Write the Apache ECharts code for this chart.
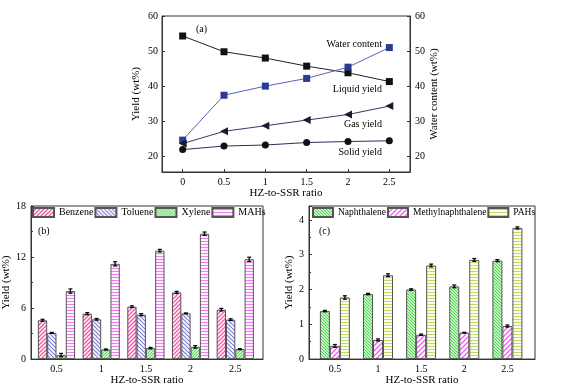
<!DOCTYPE html>
<html>
<head>
<meta charset="utf-8">
<script src="https://cdn.jsdelivr.net/npm/echarts@6/dist/echarts.min.js"></script>
<style>
  html, body { margin: 0; padding: 0; background: #fff; }
  #main { width: 576px; height: 387px; }
</style>
</head>
<body>
<div id="main"></div>
<script>
// panel (a)
const ratioA = [0, 0.5, 1, 1.5, 2, 2.5];
const waterContent = [54.3, 49.8, 48.0, 45.7, 43.8, 41.3];
const liquidYield = [24.6, 37.4, 40.0, 42.2, 45.4, 51.0];
const gasYield = [23.6, 27.1, 28.7, 30.3, 31.9, 34.3];
const solidYield = [21.9, 22.9, 23.2, 23.9, 24.2, 24.4];
const ticksA = [20, 30, 40, 50, 60];

// panel (b)
const ratioB = [0.5, 1, 1.5, 2, 2.5];
const benzene = [4.56, 5.34, 6.16, 7.84, 5.81];
const toluene = [3.08, 4.68, 5.22, 5.38, 4.64];
const xylene = [0.47, 1.13, 1.29, 1.44, 1.17];
const mahs = [8.0, 11.2, 12.75, 14.74, 11.73];
const benzeneErr = [0.12, 0.12, 0.1, 0.12, 0.15];
const tolueneErr = [0.06, 0.1, 0.12, 0.05, 0.1];
const xyleneErr = [0.2, 0.06, 0.08, 0.15, 0.06];
const mahsErr = [0.25, 0.25, 0.15, 0.2, 0.25];

// panel (c)
const naphthalene = [1.38, 1.87, 2.0, 2.09, 2.83];
const methylnaph = [0.38, 0.55, 0.70, 0.76, 0.95];
const pahs = [1.77, 2.41, 2.69, 2.85, 3.77];
const naphErr = [0.02, 0.02, 0.02, 0.04, 0.03];
const methylErr = [0.04, 0.03, 0.02, 0.01, 0.03];
const pahsErr = [0.05, 0.04, 0.04, 0.04, 0.03];

var chart = echarts.init(document.getElementById('main'));
const font = 'Liberation Serif';
const ink = '#000';

// simple hatch fills drawn on a small canvas
function hatch(color, kind, size, lw) {
	var c = document.createElement('canvas');
	c.width = size; c.height = size;
	var g = c.getContext('2d');
	g.fillStyle = '#fff';
	g.fillRect(0, 0, size, size);
	g.strokeStyle = color;
	g.lineWidth = lw;
	g.beginPath();
	if (kind === '/') {
		g.moveTo(0, size); g.lineTo(size, 0);
		g.moveTo(-1, 1); g.lineTo(1, -1);
		g.moveTo(size - 1, size + 1); g.lineTo(size + 1, size - 1);
	} else if (kind === '\\') {
		g.moveTo(0, 0); g.lineTo(size, size);
		g.moveTo(-1, size - 1); g.lineTo(1, size + 1);
		g.moveTo(size - 1, -1); g.lineTo(size + 1, 1);
	} else {
		g.moveTo(0, size / 2); g.lineTo(size, size / 2);
	}
	g.stroke();
	return { image: c, repeat: 'repeat' };
}

function pairs(xs, ys) { return xs.map((x, i) => [x, ys[i]]); }
function triples(xs, ys, es) { return xs.map((x, i) => [x, ys[i], es[i]]); }

// grid 1 -> xAxis 1 / yAxis 2, grid 2 -> xAxis 2 / yAxis 3
function barSeries(name, idx, vals, fill) {
	return {
		name: name, type: 'bar', xAxisIndex: idx, yAxisIndex: idx + 1,
		data: pairs(ratioB, vals),
		barWidth: idx === 1 ? 9.3 : 10, barGap: '0%',
		itemStyle: { color: fill, borderColor: '#555', borderWidth: 1 }
	};
}

function errSeries(idx, vals, errs, k, n, w) {
	return {
		type: 'custom', xAxisIndex: idx, yAxisIndex: idx + 1, z: 5,
		data: triples(ratioB, vals, errs),
		renderItem: function(params, api) {
			var top = api.coord([api.value(0), api.value(1) + api.value(2)]);
			var bot = api.coord([api.value(0), api.value(1) - api.value(2)]);
			var x = top[0] + (k - (n - 1) / 2) * w;
			var st = { stroke: '#000', lineWidth: 1.2 };
			return {
				type: 'group',
				children: [
					{ type: 'line', shape: { x1: x, y1: top[1], x2: x, y2: bot[1] }, style: st },
					{ type: 'line', shape: { x1: x - 2, y1: top[1], x2: x + 2, y2: top[1] }, style: st },
					{ type: 'line', shape: { x1: x - 2, y1: bot[1], x2: x + 2, y2: bot[1] }, style: st }
				]
			};
		}
	};
}

const nameTxt = { fontFamily: font, fontSize: 11, color: ink };
const txt = { fontFamily: font, fontSize: 10, color: ink };
const axLine = { show: true, onZero: false, lineStyle: { color: '#333' } };

function bottomAxis(idx, min, max, ticks) {
	return {
		gridIndex: idx, type: 'value', min: min, max: max,
		name: 'HZ-to-SSR ratio', nameLocation: 'middle', nameGap: 15,
		nameTextStyle: nameTxt,
		axisLine: axLine,
		axisTick: { show: idx === 0, inside: true, length: 3, customValues: ticks, lineStyle: { color: '#333' } },
		axisLabel: Object.assign({ customValues: ticks, margin: 5 }, txt),
		splitLine: { show: false }
	};
}

function leftAxis(idx, min, max, interval, gap) {
	return {
		gridIndex: idx, type: 'value', min: min, max: max, interval: interval,
		name: 'Yield (wt%)', nameLocation: 'middle', nameGap: gap, nameTextStyle: nameTxt,
		axisLine: axLine,
		axisTick: { inside: true, length: 3 },
		minorTick: { show: true, splitNumber: 2, length: 2 },
		axisLabel: Object.assign({ margin: 5, showMaxLabel: max % interval === 0 }, txt),
		splitLine: { show: false }
	};
}

option = {
	backgroundColor: '#fff',
	animation: false,
	grid: [
		{ left: 162, top: 16, width: 248, height: 156, show: true, borderColor: '#333', borderWidth: 1 },
		{ left: 31, top: 206, width: 232, height: 154, show: true, borderColor: '#333', borderWidth: 1 },
		{ left: 309, top: 206, width: 226, height: 154, show: true, borderColor: '#333', borderWidth: 1 }
	],
	legend: [{
		data: ['Benzene', 'Toluene', 'Xylene', 'MAHs'],
		left: 32, top: 207, padding: 0, icon: 'rect', itemWidth: 21, itemHeight: 9, itemGap: 1,
		textStyle: txt
	}, {
		data: ['Naphthalene', 'Methylnaphthalene', 'PAHs'],
		left: 312, top: 207, padding: 0, icon: 'rect', itemWidth: 20, itemHeight: 9, itemGap: 1,
		textStyle: Object.assign({}, txt, { fontSize: 9.5 })
	}],
	xAxis: [
		bottomAxis(0, -0.25, 2.75, ratioA),
		bottomAxis(1, 0.215, 2.81, ratioB),
		bottomAxis(2, 0.2, 2.82, ratioB)
	],
	yAxis: [{
		gridIndex: 0, type: 'value', min: 15.5, max: 60,
		name: 'Yield (wt%)', nameLocation: 'middle', nameGap: 20, nameTextStyle: nameTxt,
		axisLine: axLine,
		axisTick: { inside: true, length: 3, customValues: ticksA },
		axisLabel: Object.assign({ customValues: ticksA, margin: 4 }, txt),
		splitLine: { show: false }
	}, {
		gridIndex: 0, type: 'value', min: 15.5, max: 60, position: 'right',
		name: 'Water content (wt%)', nameLocation: 'middle', nameGap: 17, nameTextStyle: nameTxt,
		axisLine: axLine,
		axisTick: { inside: true, length: 3, customValues: ticksA },
		axisLabel: Object.assign({ customValues: ticksA, margin: 5 }, txt),
		splitLine: { show: false }
	},
	leftAxis(1, 0, 18, 6, 14),
	leftAxis(2, 0, 4.4, 1, 12)
	],
	series: [{
		name: 'Water content', type: 'line', xAxisIndex: 0, yAxisIndex: 1,
		data: pairs(ratioA, waterContent),
		symbol: 'rect', symbolSize: 7,
		lineStyle: { color: '#222', width: 1 },
		itemStyle: { color: '#111' }
	}, {
		name: 'Liquid yield', type: 'line', xAxisIndex: 0, yAxisIndex: 0,
		data: pairs(ratioA, liquidYield),
		symbol: 'rect', symbolSize: 7,
		lineStyle: { color: '#5563c0', width: 1 },
		itemStyle: { color: '#2a3c92' }
	}, {
		name: 'Gas yield', type: 'line', xAxisIndex: 0, yAxisIndex: 0,
		data: pairs(ratioA, gasYield),
		symbol: 'triangle', symbolRotate: 90, symbolSize: 8,
		lineStyle: { color: '#353a66', width: 1 },
		itemStyle: { color: '#1a1a2a' }
	}, {
		name: 'Solid yield', type: 'line', xAxisIndex: 0, yAxisIndex: 0,
		data: pairs(ratioA, solidYield),
		symbol: 'circle', symbolSize: 7,
		lineStyle: { color: '#2a2f5a', width: 1 },
		itemStyle: { color: '#111' }
	},
	barSeries('Benzene', 1, benzene, hatch('#f45aaa', '/', 4, 1.4)),
	barSeries('Toluene', 1, toluene, hatch('#7f80d2', '\\', 4, 1.2)),
	barSeries('Xylene', 1, xylene, hatch('#52d952', '/', 3, 1.2)),
	barSeries('MAHs', 1, mahs, hatch('#f07cf0', '-', 3, 1.2)),
	errSeries(1, benzene, benzeneErr, 0, 4, 9.3),
	errSeries(1, toluene, tolueneErr, 1, 4, 9.3),
	errSeries(1, xylene, xyleneErr, 2, 4, 9.3),
	errSeries(1, mahs, mahsErr, 3, 4, 9.3),
	barSeries('Naphthalene', 2, naphthalene, hatch('#46d846', '\\', 3, 1.2)),
	barSeries('Methylnaphthalene', 2, methylnaph, hatch('#f060f0', '/', 5, 1.3)),
	barSeries('PAHs', 2, pahs, hatch('#c4dc5c', '-', 3, 1.2)),
	errSeries(2, naphthalene, naphErr, 0, 3, 10),
	errSeries(2, methylnaph, methylErr, 1, 3, 10),
	errSeries(2, pahs, pahsErr, 2, 3, 10)
	],
	graphic: [
		{ type: 'text', left: 196, top: 24, style: { text: '(a)', font: '10px "Liberation Serif"', fill: ink } },
		{ type: 'text', right: 194, top: 39, style: { text: 'Water content', font: '10px "Liberation Serif"', fill: ink } },
		{ type: 'text', right: 194, top: 84, style: { text: 'Liquid yield', font: '10px "Liberation Serif"', fill: ink } },
		{ type: 'text', right: 194, top: 119, style: { text: 'Gas yield', font: '10px "Liberation Serif"', fill: ink } },
		{ type: 'text', right: 194, top: 147, style: { text: 'Solid yield', font: '10px "Liberation Serif"', fill: ink } },
		{ type: 'text', left: 38, top: 226, style: { text: '(b)', font: '10px "Liberation Serif"', fill: ink } },
		{ type: 'text', left: 319, top: 226, style: { text: '(c)', font: '10px "Liberation Serif"', fill: ink } }
	]
};

chart.setOption(option);
</script>
</body>
</html>
